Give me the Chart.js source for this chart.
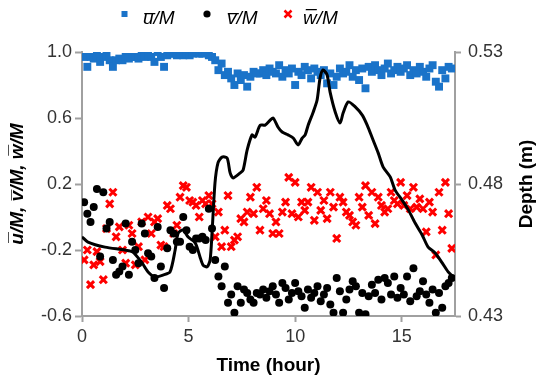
<!DOCTYPE html>
<html>
<head>
<meta charset="utf-8">
<script src="https://cdn.jsdelivr.net/npm/chart.js@4/dist/chart.umd.min.js"></script>
<style>
  html, body { margin: 0; padding: 0; background: #fff; }
  canvas { display: block; }
</style>
</head>
<body>
<canvas id="chart" width="542" height="375"></canvas>
<script>
// sample times (hour)
const hours = [
  0.10, 0.25, 0.40, 0.55, 0.70, 0.85, 1.00, 1.15, 1.30, 1.45,
  1.60, 1.75, 1.90, 2.05, 2.20, 2.35, 2.50, 2.65, 2.80, 2.95,
  3.10, 3.25, 3.40, 3.55, 3.70, 3.85, 4.00, 4.15, 4.30, 4.45,
  4.60, 4.75, 4.90, 5.05, 5.20, 5.35, 5.50, 5.65, 5.80, 5.95,
  6.10, 6.25, 6.40, 6.55, 6.70, 6.85, 7.00, 7.15, 7.30, 7.45,
  7.60, 7.75, 7.90, 8.05, 8.20, 8.35, 8.50, 8.65, 8.80, 8.95,
  9.10, 9.25, 9.40, 9.55, 9.70, 9.85, 10.00, 10.15, 10.30, 10.45,
  10.60, 10.75, 10.90, 11.05, 11.20, 11.35, 11.50, 11.65, 11.80, 11.95,
  12.10, 12.25, 12.40, 12.55, 12.70, 12.85, 13.00, 13.15, 13.30, 13.45,
  13.60, 13.75, 13.90, 14.05, 14.20, 14.35, 14.50, 14.65, 14.80, 14.95,
  15.10, 15.25, 15.40, 15.55, 15.70, 15.85, 16.00, 16.15, 16.30, 16.45,
  16.60, 16.75, 16.90, 17.05, 17.20, 17.35
];

const uM = [
  0.97, 0.91, 0.97, 0.96, 0.98, 0.94, 0.97, 0.98, 0.95, 0.91,
  0.95, 0.96, 0.95, 0.97, 0.96, 0.97, 0.97, 0.96, 0.98, 0.97,
  0.98, 0.97, 0.94, 1.00, 0.97, 0.91, 0.98, 0.99, 0.99, 0.98,
  0.99, 0.98, 0.99, 0.98, 0.99, 1.00, 0.99, 0.99, 1.00, 0.98,
  0.97, 0.95, 0.89, 0.93, 0.86, 0.88, 0.84, 0.80, 0.87, 0.83,
  0.86, 0.79, 0.85, 0.88, 0.87, 0.87, 0.89, 0.86, 0.90, 0.88,
  0.87, 0.92, 0.85, 0.89, 0.87, 0.90, 0.80, 0.88, 0.86, 0.91,
  0.89, 0.84, 0.90, 0.88, 0.86, 0.89, 0.81, 0.87, 0.80, 0.85,
  0.90, 0.87, 0.88, 0.92, 0.85, 0.89, 0.83, 0.90, 0.78, 0.91,
  0.88, 0.92, 0.89, 0.86, 0.90, 0.93, 0.87, 0.89, 0.91, 0.88,
  0.90, 0.92, 0.86, 0.89, 0.87, 0.91, 0.88, 0.85, 0.90, 0.92,
  0.82, 0.79, 0.89, 0.84, 0.91, 0.90
];

const vM = [
  0.09, 0.02, -0.03, 0.06, 0.17, -0.24, 0.15, -0.07, -0.03, -0.26,
  -0.35, -0.33, -0.30, -0.04, -0.35, -0.15, -0.20, -0.28, -0.04, -0.10,
  -0.22, -0.24, -0.37, -0.06, -0.30, -0.43, -0.19, -0.08, -0.10, -0.15,
  -0.15, 0.00, -0.08, -0.18, -0.20, -0.13, -0.13, -0.12, -0.14, 0.05,
  -0.07, -0.26, -0.36, -0.42, -0.30, -0.52, -0.47, -0.58, -0.42, -0.52,
  -0.44, -0.46, -0.50, -0.52, -0.46, -0.47, -0.44, -0.49, -0.45, -0.42,
  -0.47, -0.52, -0.40, -0.43, -0.50, -0.46, -0.40, -0.45, -0.48, -0.55,
  -0.44, -0.49, -0.46, -0.42, -0.51, -0.47, -0.43, -0.53, -0.58, -0.37,
  -0.45, -0.58, -0.50, -0.44, -0.39, -0.42, -0.58, -0.46, -0.59, -0.48,
  -0.41, -0.46, -0.38, -0.50, -0.37, -0.40, -0.47, -0.36, -0.49, -0.43,
  -0.47, -0.36, -0.51, -0.31, -0.48, -0.45, -0.39, -0.47, -0.52, -0.44,
  -0.58, -0.46, -0.55, -0.42, -0.40, -0.37
];

const wM = [
  -0.26, -0.20, -0.41, -0.29, -0.21, -0.27, -0.38, -0.07, 0.08, 0.15,
  -0.12, -0.06, -0.20, -0.28, -0.05, -0.10, -0.29, -0.18, -0.03, -0.26,
  0.00, -0.10, -0.03, -0.01, -0.17, -0.18, 0.07, 0.05, -0.10, -0.05,
  0.12, 0.19, 0.18, 0.10, 0.09, 0.07, 0.00, 0.10, 0.08, 0.13,
  0.08, -0.12, 0.03, -0.18, -0.08, 0.13, -0.18, -0.14, -0.12, -0.01,
  -0.03, 0.03, 0.12, 0.02, 0.18, -0.08, 0.05, 0.10, 0.02, -0.10,
  -0.03, -0.10, 0.03, 0.09, 0.24, 0.02, 0.21, 0.00, 0.09, 0.04,
  0.09, 0.18, -0.02, 0.15, 0.04, 0.10, -0.01, 0.15, 0.06, -0.13,
  0.12, 0.09, 0.03, 0.01, -0.03, -0.05, 0.12, 0.06, 0.19, 0.01,
  0.15, -0.04, 0.12, 0.07, 0.03, 0.05, 0.15, 0.10, 0.08, 0.21,
  0.07, 0.13, 0.05, 0.18, 0.06, 0.11, 0.05, -0.09, 0.09, 0.03,
  -0.23, 0.15, -0.08, 0.21, 0.02, -0.19
];

// water depth (m), right axis
const depthHours = [
  0.00, 0.28, 1.08, 2.02, 2.39, 2.82, 3.10, 3.43, 3.80, 4.13,
  4.37, 4.51, 4.74, 4.98, 5.31, 5.54, 5.68, 5.87, 6.01, 6.10,
  6.24, 6.38, 6.57, 6.81, 6.95, 7.09, 7.42, 7.56, 7.75, 7.98,
  8.12, 8.36, 8.59, 8.83, 8.97, 9.20, 9.39, 9.67, 9.91, 10.14,
  10.33, 10.47, 10.61, 10.85, 11.03, 11.17, 11.31, 11.50, 11.64, 11.88,
  12.11, 12.25, 12.49, 12.82, 13.15, 13.38, 13.62, 13.90, 14.13, 14.46,
  14.69, 15.02, 15.31, 15.63, 15.96, 16.24, 16.57, 16.90, 17.18, 17.42
];
const depthM = [
  0.4600, 0.4580, 0.4561, 0.4550, 0.4542, 0.4501, 0.4467, 0.4448, 0.4455, 0.4467,
  0.4550, 0.4614, 0.4626, 0.4599, 0.4577, 0.4523, 0.4493, 0.4486, 0.4512, 0.4614,
  0.4804, 0.4880, 0.4902, 0.4898, 0.4842, 0.4823, 0.4842, 0.4853, 0.4929, 0.4986,
  0.4978, 0.5023, 0.5023, 0.5042, 0.5050, 0.5015, 0.4997, 0.4986, 0.4974, 0.4948,
  0.4974, 0.4986, 0.5023, 0.5073, 0.5118, 0.5202, 0.5232, 0.5213, 0.5148, 0.5073,
  0.5031, 0.5069, 0.5111, 0.5092, 0.5061, 0.5023, 0.4974, 0.4917, 0.4864, 0.4827,
  0.4777, 0.4739, 0.4702, 0.4652, 0.4607, 0.4561, 0.4539, 0.4501, 0.4467, 0.4448
];

const xTicks = [0, 5, 10, 15];
const leftTicks = [-0.6, -0.2, 0.2, 0.6, 1.0];
const rightTicks = [0.43, 0.48, 0.53];

const BLUE = '#1a73c9';
const RED = '#ff0000';
const AXIS = '#a0a0a0';
const FONT = "'Liberation Sans', Arial, sans-serif";

const seriesLabels = ['u\u0305/M', 'v\u0305/M', 'w\u0305/M'];

// legend and right title drawn by hand so they sit where the original has them
const extrasPlugin = {
  id: 'extras',
  afterDraw(chart) {
    const ctx = chart.ctx;
    const y = 14;
    ctx.save();
    ctx.fillStyle = BLUE;
    ctx.fillRect(121.5, y - 3, 6, 6);
    ctx.fillStyle = '#000';
    ctx.beginPath();
    ctx.arc(207, y, 3.6, 0, Math.PI * 2);
    ctx.fill();
    ctx.strokeStyle = RED;
    ctx.lineWidth = 2.5;
    ctx.beginPath();
    ctx.moveTo(284.5, y - 3.5); ctx.lineTo(291.5, y + 3.5);
    ctx.moveTo(291.5, y - 3.5); ctx.lineTo(284.5, y + 3.5);
    ctx.stroke();
    ctx.font = 'italic 19px ' + FONT;
    ctx.fillStyle = '#000';
    ctx.textBaseline = 'middle';
    ctx.textAlign = 'left';
    ctx.fillText(seriesLabels[0], 143, y + 5);
    ctx.fillText(seriesLabels[1], 227, y + 5);
    ctx.fillText(seriesLabels[2], 303, y + 5);

    const area = chart.chartArea;
    ctx.translate(527, (area.top + area.bottom) / 2);
    ctx.rotate(-Math.PI / 2);
    ctx.font = 'bold 19px ' + FONT;
    ctx.textAlign = 'center';
    ctx.fillText('Depth (m)', 0, 0);
    ctx.restore();
  }
};

const toPoints = (xs, ys) => xs.map((x, i) => ({ x, y: ys[i] }));

new Chart(document.getElementById('chart'), {
  type: 'scatter',
  data: {
    datasets: [
      { label: seriesLabels[0], data: toPoints(hours, uM), yAxisID: 'y', pointStyle: 'rect', pointRadius: 5.6, backgroundColor: BLUE, borderColor: BLUE, borderWidth: 0, order: 1 },
      { label: seriesLabels[1], data: toPoints(hours, vM), yAxisID: 'y', pointStyle: 'circle', pointRadius: 4, backgroundColor: '#000', borderColor: '#000', borderWidth: 0, order: 1 },
      { label: seriesLabels[2], data: toPoints(hours, wM), yAxisID: 'y', pointStyle: 'crossRot', pointRadius: 5, backgroundColor: RED, borderColor: RED, borderWidth: 3, order: 1 },
      { type: 'line', label: 'Depth', data: toPoints(depthHours, depthM), yAxisID: 'y2', showLine: true, borderColor: '#000', borderWidth: 3, pointRadius: 0, tension: 0.25, order: 0 }
    ]
  },
  options: {
    responsive: false,
    animation: false,
    devicePixelRatio: 1,
    layout: { padding: { top: 52, left: 0, right: 0, bottom: 0 } },
    plugins: { legend: { display: false }, tooltip: { enabled: false } },
    scales: {
      x: {
        type: 'linear', min: 0, max: 17.5,
        afterBuildTicks: s => { s.ticks = xTicks.map(v => ({ value: v })); },
        afterFit: s => { s.height = 59; },
        ticks: { font: { size: 18, family: FONT }, color: '#333', padding: 4 },
        grid: { drawOnChartArea: false, tickLength: 6, color: AXIS, tickWidth: 2 },
        border: { color: AXIS, width: 2 },
        title: { display: true, text: 'Time (hour)', color: '#000', font: { size: 19, weight: 'bold', family: FONT, lineHeight: 1 }, padding: 0 }
      },
      y: {
        type: 'linear', position: 'left', min: -0.6, max: 1.0,
        afterBuildTicks: s => { s.ticks = leftTicks.map(v => ({ value: v })); },
        afterFit: s => { s.width = 82; },
        ticks: { font: { size: 18, family: FONT }, color: '#333', padding: 3, callback: v => v.toFixed(1) },
        grid: { drawOnChartArea: false, tickLength: 7, color: AXIS, tickWidth: 2 },
        border: { color: AXIS, width: 2 },
        title: { display: true, text: 'u\u0305/M, v\u0305/M, w\u0305/M', color: '#000', font: { size: 19, weight: 'bold', style: 'italic', family: FONT, lineHeight: 1.2 }, padding: { top: 6, bottom: 0 } }
      },
      y2: {
        type: 'linear', position: 'right', min: 0.43, max: 0.53,
        afterBuildTicks: s => { s.ticks = rightTicks.map(v => ({ value: v })); },
        afterFit: s => { s.width = 87; },
        ticks: { font: { size: 18, family: FONT }, color: '#333', padding: 7, callback: v => v.toFixed(2) },
        grid: { drawOnChartArea: false, tickLength: 6, color: AXIS, tickWidth: 2 },
        border: { color: AXIS, width: 2 },
        title: { display: false }
      }
    }
  },
  plugins: [extrasPlugin]
});
</script>
</body>
</html>
